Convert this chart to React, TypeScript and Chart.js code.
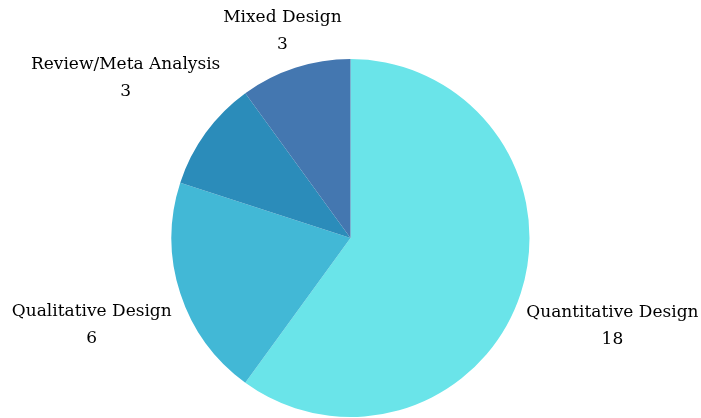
import React, { useEffect, useRef } from "react";
import { Chart, registerables } from "chart.js";

Chart.register(...registerables);

const categories = ["Quantitative Design", "Qualitative Design", "Review/Meta Analysis", "Mixed Design"];
const counts = [18, 6, 3, 3];
const colors = ["#6ae4e9", "#42b8d6", "#2b8cba", "#4477b0"];

const outsideLabels = {
  id: "outsideLabels",
  afterDatasetsDraw(chart: any, _args: any, opts: any) {
    const ctx = chart.ctx;
    const meta = chart.getDatasetMeta(0);
    const labels = chart.data.labels as string[];
    const data = chart.data.datasets[0].data as number[];
    ctx.save();
    ctx.font = opts.font;
    ctx.fillStyle = opts.color;
    ctx.textAlign = "center";
    ctx.textBaseline = "middle";
    const lh = opts.lineHeight;
    meta.data.forEach((arc: any, i: number) => {
      const { x, y, startAngle, endAngle, outerRadius } = arc.getProps(["x", "y", "startAngle", "endAngle", "outerRadius"], true);
      const mid = (startAngle + endAngle) / 2;
      const dx = Math.cos(mid);
      const dy = Math.sin(mid);
      const lines = [labels[i], String(data[i])];
      const w = Math.max(...lines.map((l) => ctx.measureText(l).width)) / 2;
      const h = (lh * lines.length) / 2;
      const t = Math.min(Math.abs(dx) > 1e-6 ? w / Math.abs(dx) : 1e9, Math.abs(dy) > 1e-6 ? h / Math.abs(dy) : 1e9);
      const extra = (opts.extra && opts.extra[i]) || 0;
      const d = outerRadius + opts.pad + t + extra;
      const cx = x + dx * d;
      const cy = y + dy * d + opts.shiftY;
      lines.forEach((l, k) => {
        ctx.fillText(l, cx, cy - h + lh / 2 + k * lh);
      });
    });
    ctx.restore();
  },
};

export default function App() {
  const ref = useRef<HTMLCanvasElement>(null);
  useEffect(() => {
    document.body.style.margin = "0";
    const chart = new Chart(ref.current!, {
      type: "pie",
      data: {
        labels: categories,
        datasets: [
          {
            data: counts,
            backgroundColor: colors,
            borderColor: colors,
            borderWidth: 0,
          },
        ],
      },
      options: {
        animation: false,
        responsive: false,
        maintainAspectRatio: false,
        layout: { padding: { top: 59, bottom: 1, left: 0, right: 0 } },
        plugins: {
          legend: { display: false },
          tooltip: { enabled: false },
          outsideLabels: {
            font: "17px 'DejaVu Serif'",
            color: "#000",
            lineHeight: 27,
            pad: 9,
            shiftY: 3,
            extra: [0, 0, 44, 4],
          },
        } as any,
      },
      plugins: [outsideLabels],
    });
    return () => chart.destroy();
  }, []);
  return (
    <div style={{ width: 701, height: 418 }}>
      <canvas ref={ref} width={701} height={418} style={{ display: "block" }} />
    </div>
  );
}
